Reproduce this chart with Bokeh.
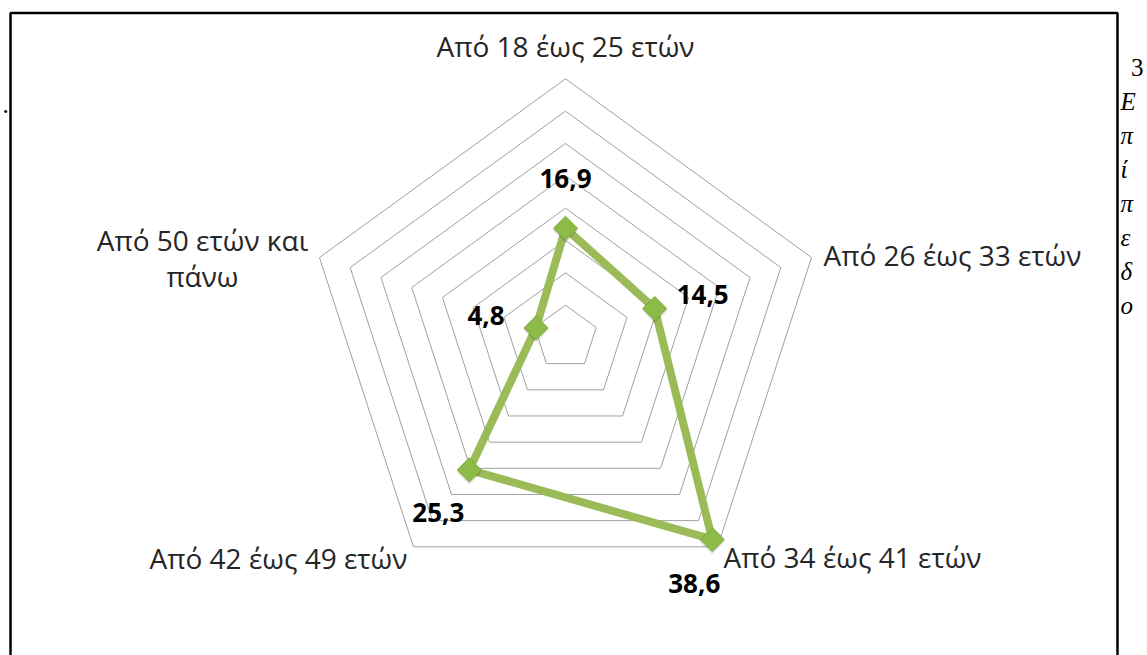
import numpy as np
from bokeh.plotting import figure
from bokeh.models import Range1d, ColumnDataSource
from bokeh.core.properties import value
from bokeh.embed import file_html
from bokeh.resources import INLINE

# ---------------- data ----------------
categories = ["Από 18 έως 25 ετών", "Από 26 έως 33 ετών", "Από 34 έως 41 ετών",
              "Από 42 έως 49 ετών", "Από 50 ετών και\nπάνω"]
values = [16.9, 14.5, 38.6, 25.3, 4.8]
value_labels = ["16,9", "14,5", "38,6", "25,3", "4,8"]
ring_levels = [5, 10, 15, 20, 25, 30, 35, 40]
side_chars = ["3", "Ε", "π", "ί", "π", "ε", "δ", "ο"]

# ---------------- layout ----------------
W, H = 1147, 655           # figure size
OFF = 0                    # page offset of the figure
K = 6.4675                 # pixels per value unit
CX, CY = 565, 337          # radar centre in page pixels
R_MAX = ring_levels[-1]

def px(x):
    return (x - CX) / K

def py(y):
    return (CY - y) / K

p = figure(width=W, height=H, output_backend="svg", toolbar_location=None,
           x_range=Range1d(px(OFF), px(OFF + W)), y_range=Range1d(py(OFF + H), py(OFF)),
           x_axis_type=None, y_axis_type=None, min_border=0,
           outline_line_color=None, background_fill_color="white",
           border_fill_color="white")
p.grid.visible = False

n = len(categories)
theta = np.arange(n) * 2 * np.pi / n

def polar(r, t):
    return r * np.sin(t), r * np.cos(t)

# rings
ring_xs, ring_ys = [], []
for lv in ring_levels:
    x, y = polar(lv, np.append(theta, theta[0]))
    ring_xs.append(list(x))
    ring_ys.append(list(y))
p.multi_line(ring_xs, ring_ys, line_color="#a0a0a0", line_width=1)

# series
vx, vy = polar(np.array(values), theta)
p.line(list(np.append(vx, vx[0])), list(np.append(vy, vy[0])),
       line_color="#9bbb59", line_width=8, line_join="round")
# marker shadow + marker
p.scatter(vx + 0.0, vy - 2.0 / K, marker="square", angle=np.pi / 4, size=18,
          fill_color="black", fill_alpha=0.12, line_color=None)
p.scatter(vx, vy, marker="square", angle=np.pi / 4, size=17,
          fill_color="#8cbb47", line_color="#7fa83c", line_width=1)

# value labels
val_dx = [0, 48, -18, -31, -50]
val_dy = [-50, -14, 44, 43, -12]
p.text(x=list(vx), y=list(vy), text=value_labels, x_offset=val_dx, y_offset=val_dy,
       text_font=value("Open Sans"), text_font_style="bold", text_font_size="26px",
       text_color="black", text_align="center", text_baseline="middle")

# category labels
ox, oy = polar(R_MAX, theta)
cat_align = ["center", "left", "left", "right", "center"]
cat_dx = [0, 12, 6, -6, -117]
cat_dy = [-33, -3, 10, 11, 0]
line_gap = 36
lab = dict(x=[], y=[], text=[], xo=[], yo=[], align=[])
for i, c in enumerate(categories):
    lines = c.split("\n")
    m = len(lines)
    for j, ln in enumerate(lines):
        lab["x"].append(ox[i])
        lab["y"].append(oy[i])
        lab["text"].append(ln)
        lab["xo"].append(cat_dx[i])
        lab["yo"].append(cat_dy[i] + (j - (m - 1) / 2) * line_gap)
        lab["align"].append(cat_align[i])
p.text(x="x", y="y", text="text", x_offset="xo", y_offset="yo", text_align="align",
       source=ColumnDataSource(lab), text_font=value("Open Sans"),
       text_font_size="28px", text_color="#262626", text_baseline="middle")

# frame box (cut at the bottom)
p.line([px(10), px(10), px(1117), px(1117)], [py(700), py(12.5), py(12.5), py(700)],
       line_color="black", line_width=2.5)

# vertical side text and stray dot of the source page
side_x = [px(1143)] + [px(1120)] * (len(side_chars) - 1)
side_y = [py(67 + 34 * i) for i in range(len(side_chars))]
side_align = ["right"] + ["left"] * (len(side_chars) - 1)
side_style = ["normal"] + ["italic"] * (len(side_chars) - 1)
p.text(x="x", y="y", text="t", text_align="a", text_font_style="s",
       source=ColumnDataSource(dict(x=side_x, y=side_y, t=side_chars,
                                    a=side_align, s=side_style)),
       text_font=value("Liberation Serif"), text_font_size="25px",
       text_color="black", text_baseline="alphabetic")
p.text(x=[px(2)], y=[py(104)], text=["."], text_font=value("Liberation Serif"),
       text_font_size="25px", text_color="black", text_baseline="alphabetic")

open("out.html", "w").write(file_html(p, INLINE))
